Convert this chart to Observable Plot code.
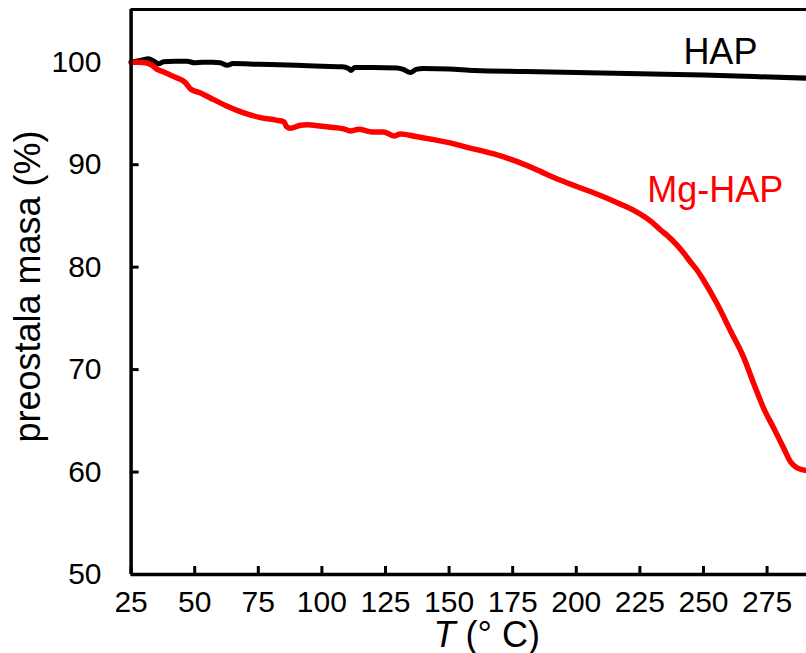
<!DOCTYPE html>
<html><head><meta charset="utf-8">
<script src="https://cdn.jsdelivr.net/npm/d3@7"></script>
<script src="https://cdn.jsdelivr.net/npm/@observablehq/plot@0.6"></script>
<style>html,body{margin:0;padding:0;background:#fff;overflow:hidden} svg{display:block}</style>
</head><body><div id="chart"></div>
<script>
// HAP (black) – temperature (°C) and remaining mass (%)
const hapT    = [25, 29, 31.8, 34, 35.8, 37.7, 42, 47, 50, 53, 57, 60, 62.8, 65, 75, 90, 100, 108, 110.5, 111.3, 113, 120, 129.6, 132, 134.8, 137, 140, 150, 160, 180, 200, 210, 230, 250, 270, 290.5];
const hapMass = [100.0, 100.2, 100.35, 100.1, 99.85, 100.05, 100.1, 100.1, 99.95, 100.0, 100.0, 99.95, 99.7, 99.87, 99.8, 99.7, 99.6, 99.55, 99.4, 99.2, 99.5, 99.5, 99.45, 99.3, 99.0, 99.3, 99.4, 99.35, 99.2, 99.1, 99.0, 98.95, 98.85, 98.75, 98.6, 98.45];
// Mg-HAP (red)
const mgT    = [25, 28, 30.7, 33.3, 35.3, 37.9, 41.8, 46.4, 48.3, 52.3, 57.5, 62.8, 69.3, 75.9, 82, 85, 86.2, 87.5, 91.6, 94.2, 100, 108.6, 111.2, 114.5, 119.8, 124.3, 128.3, 130.9, 137, 144, 150, 157.1, 167.6, 176.8, 185.9, 191.2, 200.4, 209.5, 217, 222.6, 229.2, 233, 235.7, 239.6, 242.3, 244.9, 247.5, 250.1, 255.4, 260.6, 265.8, 269.8, 273.7, 277.6, 281.6, 284.2, 286.8, 290.5];
const mgMass = [100.0, 100.0, 99.95, 99.7, 99.3, 99.05, 98.6, 98.0, 97.4, 97.0, 96.35, 95.7, 95.05, 94.6, 94.35, 94.2, 93.7, 93.55, 93.85, 93.9, 93.75, 93.5, 93.3, 93.45, 93.2, 93.2, 92.8, 93.0, 92.75, 92.45, 92.15, 91.7, 91.05, 90.3, 89.35, 88.75, 87.85, 87.0, 86.2, 85.55, 84.5, 83.65, 83.1, 82.15, 81.35, 80.5, 79.7, 78.7, 76.4, 73.8, 71.2, 68.6, 66.2, 64.3, 62.3, 61.0, 60.4, 60.15];

const xTicks = [25, 50, 75, 100, 125, 150, 175, 200, 225, 250, 275];
const yTicks = [50, 60, 70, 80, 90, 100];
const seriesLabels = ["HAP", "Mg-HAP"];
const labelT = [242.1, 227.9];
const labelMass = [99.87, 86.36];
const seriesColors = ["#000000", "#ff0000"];

const hap = hapT.map((t, i) => ({t, m: hapMass[i]}));
const mg = mgT.map((t, i) => ({t, m: mgMass[i]}));
const labels = seriesLabels.map((s, i) => ({s, t: labelT[i], m: labelMass[i], c: seriesColors[i]}));

const font = "'Liberation Sans', Arial, sans-serif";

const chart = Plot.plot({
  width: 806,
  height: 653,
  marginLeft: 130.6,
  marginRight: 0,
  marginTop: 9,
  marginBottom: 79,
  style: {fontFamily: font, background: "#fff", color: "#000"},
  x: {domain: [25, 290.5]},
  y: {domain: [50, 105.15]},
  marks: [
    Plot.axisX({ticks: xTicks, tickSize: -8, tickPadding: 24, fontSize: 30, strokeWidth: 3, label: null, tickFormat: d => String(d)}),
    Plot.axisY({ticks: yTicks, tickSize: -8, tickPadding: 37.6, fontSize: 30, strokeWidth: 3, label: null, tickFormat: d => String(d)}),
    Plot.line(hap, {x: "t", y: "m", stroke: seriesColors[0], strokeWidth: 5, curve: "monotone-x"}),
    Plot.line(mg, {x: "t", y: "m", stroke: seriesColors[1], strokeWidth: 5.5, curve: "monotone-x"}),
    Plot.ruleX([25], {stroke: "#000", strokeWidth: 3.5}),
    Plot.ruleY([50], {stroke: "#000", strokeWidth: 3.5}),
    Plot.ruleY([105.15], {stroke: "#000", strokeWidth: 3}),
    Plot.text(labels, {x: "t", y: "m", text: "s", fill: "c", fontSize: 36, textAnchor: "start", lineAnchor: "bottom"}),
    Plot.text(["preostala masa (%)"], {frameAnchor: "left", textAnchor: "middle", lineAnchor: "middle", dx: -102.6, dy: -5.5, rotate: -90, fontSize: 36}),
    Plot.text(["T (° C)"], {frameAnchor: "bottom", textAnchor: "middle", lineAnchor: "bottom", dx: 18, dy: 72, fontSize: 36})
  ]
});
document.getElementById("chart").appendChild(chart);

// italic T in the x-axis title
chart.querySelectorAll("text").forEach(el => {
  if (el.textContent === "T (° C)") {
    el.textContent = "";
    const ns = "http://www.w3.org/2000/svg";
    const t1 = document.createElementNS(ns, "tspan");
    t1.setAttribute("font-style", "italic");
    t1.textContent = "T";
    const t2 = document.createElementNS(ns, "tspan");
    t2.textContent = " (° C)";
    el.appendChild(t1); el.appendChild(t2);
  }
});
</script>
</body></html>
